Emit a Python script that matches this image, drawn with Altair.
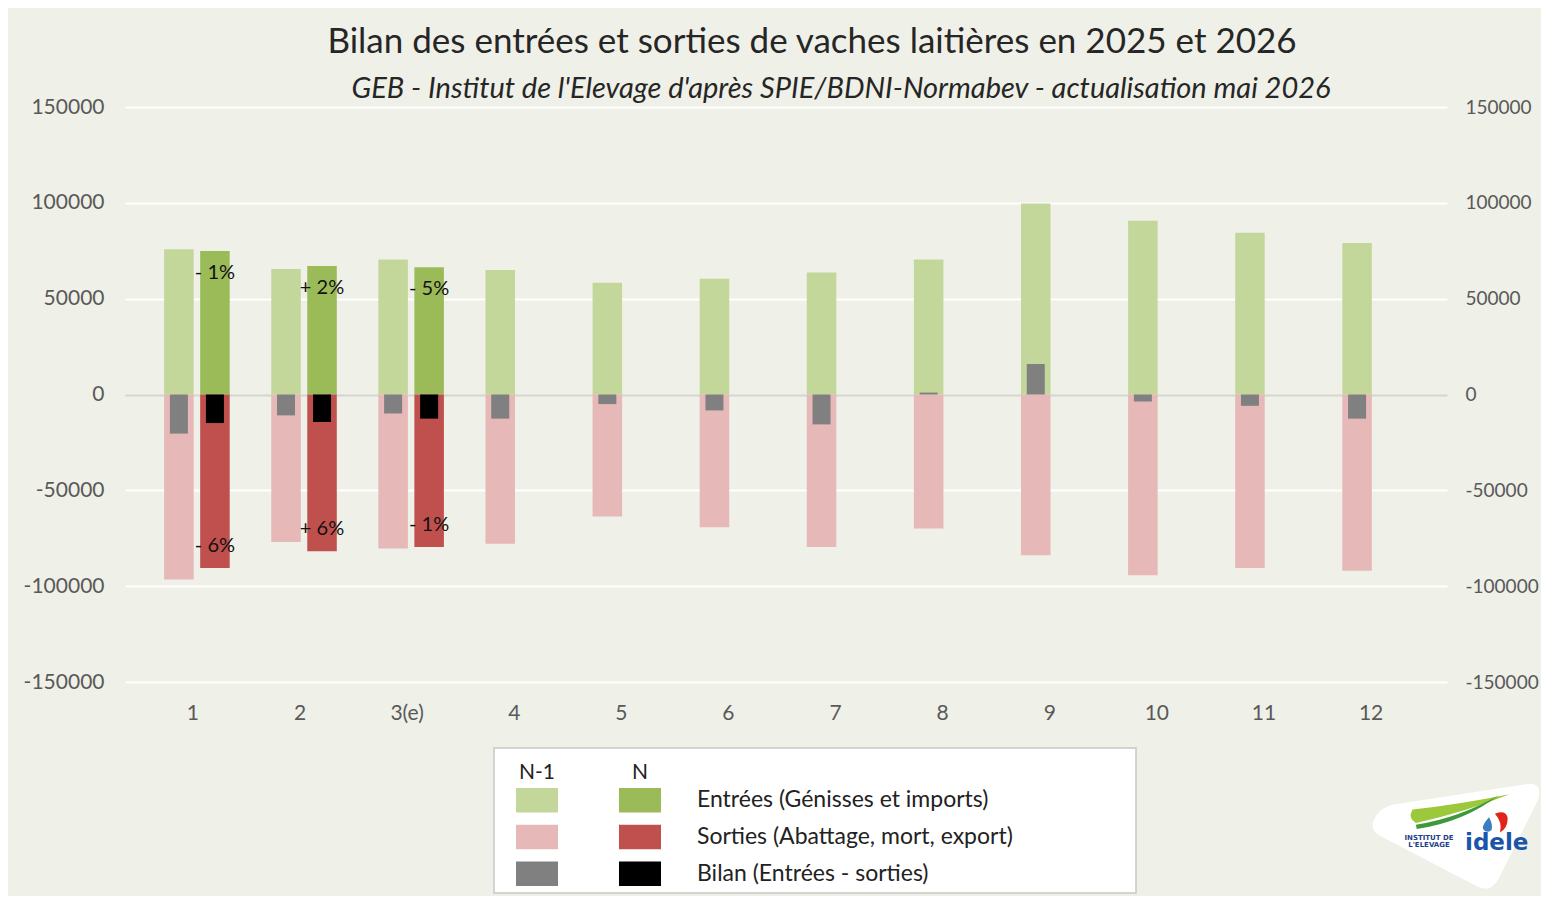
import altair as alt
import pandas as pd

# ---------------- data ----------------
mois = ["1", "2", "3(e)", "4", "5", "6", "7", "8", "9", "10", "11", "12"]
entrees_n1 = [75800, 65500, 70400, 64900, 58300, 60400, 63700, 70400, 99600, 90700, 84400, 79000]
sorties_n1 = [-96500, -77000, -80400, -77900, -63700, -69200, -79600, -69900, -83900, -94300, -90500, -91900]
bilan_n1 = [-20400, -10900, -9900, -12600, -5000, -8300, -15600, 1000, 15900, -3600, -5900, -12600]
mois_n = ["1", "2", "3(e)"]
entrees_n = [74900, 67100, 66400]
sorties_n = [-90500, -81800, -79600]
bilan_n = [-14900, -14400, -12600]
var_entrees = ["- 1%", "+ 2%", "- 5%"]
var_sorties = ["- 6%", "+ 6%", "- 1%"]

annees = ["N-1", "N"]
legend_rows = ["Entrées", "Sorties", "Bilan"]
legend_labels = ["Entrées (Génisses et imports)", "Sorties (Abattage, mort, export)", "Bilan (Entrées - sorties)"]

title_text = "Bilan des entrées et sorties de vaches laitières en 2025 et 2026"
subtitle_text = "GEB - Institut de l'Elevage d'après SPIE/BDNI-Normabev - actualisation mai 2026"

# ---------------- styles ----------------
C_E_N1, C_E_N = "#c4d79b", "#9bbb59"
C_S_N1, C_S_N = "#e6b8b7", "#c0504d"
C_B_N1, C_B_N = "#808080", "#000000"
BG = "#eff0e8"
FONT = "Lato"
W, H = 1322, 575

rows = []
for i, m in enumerate(mois):
    rows.append(dict(mois=m, annee="N-1", entrees=entrees_n1[i], sorties=sorties_n1[i],
                     bilan=bilan_n1[i], var_e="", var_s=""))
for i, m in enumerate(mois_n):
    rows.append(dict(mois=m, annee="N", entrees=entrees_n[i], sorties=sorties_n[i],
                     bilan=bilan_n[i], var_e=var_entrees[i], var_s=var_sorties[i]))
df = pd.DataFrame(rows)

xscale = alt.Scale(domain=mois, paddingInner=0.388, paddingOuter=0.3655)
yscale = alt.Scale(domain=[-150000, 150000], nice=False, zero=False)
xoff = alt.XOffset("annee:N", scale=alt.Scale(domain=annees, paddingInner=0.18, paddingOuter=0))
xoff_bilan = alt.XOffset("annee:N", scale=alt.Scale(domain=annees, paddingInner=0.5, paddingOuter=0.16))

base = alt.Chart(df)

TICKS = [-150000, -100000, -50000, 0, 50000, 100000, 150000]
x_axis = alt.Axis(title=None, labelFont=FONT, labelFontSize=21, labelColor="#595959", labelAngle=0,
                  labelOffset=-4, ticks=False, domain=False, labelPadding=20, grid=False)
y_left = alt.Axis(title=None, orient="left", values=TICKS,
                  labelExpr="'' + datum.value", labelFont=FONT, labelFontSize=21, labelColor="#595959",
                  ticks=False, domain=False, labelPadding=21, grid=True,
                  gridColor={"condition": {"test": "datum.value === 0", "value": "#d6d6d0"}, "value": "#ffffff"},
                  gridWidth=2)
y_right = alt.Axis(title=None, orient="right", values=TICKS,
                   labelExpr="'' + datum.value", labelFont=FONT, labelFontSize=19, labelColor="#595959",
                   ticks=False, domain=False, labelPadding=18, grid=False)


def bars(field, annee, color, offset=xoff):
    return base.transform_filter(alt.datum.annee == annee).mark_bar(color=color).encode(
        x=alt.X("mois:N", sort=mois, scale=xscale, axis=x_axis),
        xOffset=offset,
        y=alt.Y(f"{field}:Q", scale=yscale, axis=y_left, stack=None),
    )


e1 = bars("entrees", "N-1", C_E_N1)
e2 = bars("entrees", "N", C_E_N)
s1 = bars("sorties", "N-1", C_S_N1)
s2 = bars("sorties", "N", C_S_N)
b1 = bars("bilan", "N-1", C_B_N1, offset=xoff_bilan)
b2 = bars("bilan", "N", C_B_N, offset=xoff_bilan)


def pct(field, textfield, dy):
    return base.transform_filter(alt.datum.annee == "N").mark_text(
        font=FONT, fontSize=20, color="#111111", dy=dy, baseline="middle", align="center"
    ).encode(x=alt.X("mois:N", sort=mois, scale=xscale, axis=x_axis), xOffset=xoff,
             y=alt.Y(f"{field}:Q", scale=yscale, axis=y_left), text=f"{textfield}:N")


lbl_e = pct("entrees", "var_e", 22)
lbl_s = pct("sorties", "var_s", -22)

bars_main = alt.layer(e1, e2, s1, s2, lbl_e, lbl_s)
bars_bilan = alt.layer(b1, b2)
main = alt.layer(bars_main, bars_bilan).resolve_scale(xOffset="independent")

right_axis = base.transform_filter(alt.datum.annee == "N-1").mark_bar(opacity=0).encode(
    x=alt.X("mois:N", sort=mois, scale=xscale, axis=None),
    y=alt.Y("entrees:Q", scale=yscale, axis=y_right),
)

# ---------------- legend ----------------
leg_rows = []
for r, lab in zip(legend_rows, legend_labels):
    for a in annees:
        leg_rows.append(dict(lrow=r, lcol=a, key=f"{r} {a}", label=lab))
ldf = pd.DataFrame(leg_rows)
lx = alt.Scale(domain=annees, range=[391, 536], paddingInner=0.592, paddingOuter=0)
ly = alt.Scale(domain=legend_rows, range=[681, 779], paddingInner=0.333, paddingOuter=0)
keys = [f"{r} {a}" for r in legend_rows for a in annees]
key_colors = [C_E_N1, C_E_N, C_S_N1, C_S_N, C_B_N1, C_B_N]

lbase = alt.Chart(ldf)
box = alt.Chart(alt.Data(values=[{"k": 1}])).mark_rect(
    fill="#ffffff", stroke="#c8c8c8", strokeWidth=1.5
).encode(x=alt.value(369), x2=alt.value(1011), y=alt.value(641), y2=alt.value(786))
swatch = lbase.mark_rect().encode(
    x=alt.X("lcol:N", scale=lx, axis=None),
    y=alt.Y("lrow:N", scale=ly, axis=None),
    color=alt.Color("key:N", scale=alt.Scale(domain=keys, range=key_colors), legend=None),
)
header = lbase.transform_filter(alt.datum.lrow == "Entrées").mark_text(
    font=FONT, fontSize=21, color="#222222", dy=-27, baseline="middle", align="center"
).encode(x=alt.X("lcol:N", scale=lx, axis=None), y=alt.Y("lrow:N", scale=ly, axis=None), text="lcol:N")
labels = lbase.transform_filter(alt.datum.lcol == "N").mark_text(
    font=FONT, fontSize=23, color="#222222", dx=57, baseline="middle", align="left"
).encode(x=alt.X("lcol:N", scale=lx, axis=None), y=alt.Y("lrow:N", scale=ly, axis=None), text="label:N")
legend = alt.layer(box, swatch, header, labels)

# ---------------- titles ----------------
one = alt.Data(values=[{"k": 1}])
title = alt.Chart(one).mark_text(
    text=title_text, font=FONT, fontSize=35, color="#262626", align="center", baseline="alphabetic"
).encode(x=alt.value(687), y=alt.value(-54))
subtitle = alt.Chart(one).mark_text(
    text=subtitle_text, font=FONT, fontSize=29, fontStyle="italic", color="#262626",
    align="center", baseline="alphabetic"
).encode(x=alt.value(716), y=alt.value(-9))

# ---------------- logo ----------------
LX, LY, LS = 1330, 728, 28900
blob = "M -0.93 -0.22 Q -1.02 -0.08 -0.9 0.0 L 0.25 0.6 Q 0.42 0.7 0.52 0.5 L 0.98 -0.42 Q 1.03 -0.62 0.85 -0.6 L -0.72 -0.36 Q -0.87 -0.33 -0.93 -0.22 Z"
lime = "M -0.5 -0.3 Q 0.05 -0.36 0.64 -0.48 Q 0.15 -0.28 -0.46 -0.14 Q -0.56 -0.2 -0.5 -0.3 Z"
dark = "M -0.46 -0.12 Q 0.05 -0.2 0.52 -0.47 Q 0.1 -0.15 -0.45 -0.07 Z"
red = "M 0.47 -0.25 Q 0.6 -0.3 0.62 -0.2 Q 0.62 -0.08 0.53 -0.03 Q 0.56 -0.15 0.47 -0.25 Z"
blue = "M 0.4 -0.21 Q 0.31 -0.11 0.33 -0.07 Q 0.37 -0.01 0.43 -0.06 Q 0.45 -0.12 0.4 -0.21 Z"


def shape(path, color):
    return alt.Chart(one).mark_point(shape=path, size=LS, filled=True, fill=color, opacity=1,
                                     strokeWidth=0).encode(x=alt.value(LX), y=alt.value(LY))


logo = alt.layer(
    shape(blob, "#ffffff"), shape(lime, "#9cc83c"), shape(dark, "#3c9a3a"),
    shape(red, "#e2231a"), shape(blue, "#3b7dc4"),
    alt.Chart(one).mark_text(text="INSTITUT DE", font="DejaVu Sans", fontSize=7, fontWeight="bold",
                             color="#1f3f8c", align="center").encode(x=alt.value(1304), y=alt.value(731)),
    alt.Chart(one).mark_text(text="L'ELEVAGE", font="DejaVu Sans", fontSize=7, fontWeight="bold",
                             color="#1f3f8c", align="center").encode(x=alt.value(1304), y=alt.value(738)),
    alt.Chart(one).mark_text(text="idele", font="DejaVu Sans", fontSize=23, fontWeight="bold",
                             color="#1b55a9", align="left", baseline="alphabetic").encode(
        x=alt.value(1340), y=alt.value(743)),
)

chart = alt.layer(main, right_axis, legend, title, subtitle, logo).resolve_scale(
    x="independent", y="independent"
).properties(
    width=W, height=H,
    autosize=alt.AutoSizeParams(type="none"),
    padding={"left": 117, "top": 99, "right": 94, "bottom": 214},
    background=BG,
).configure_view(stroke=None)

chart.save("out.html", embed_options={"renderer": "svg", "actions": False})
